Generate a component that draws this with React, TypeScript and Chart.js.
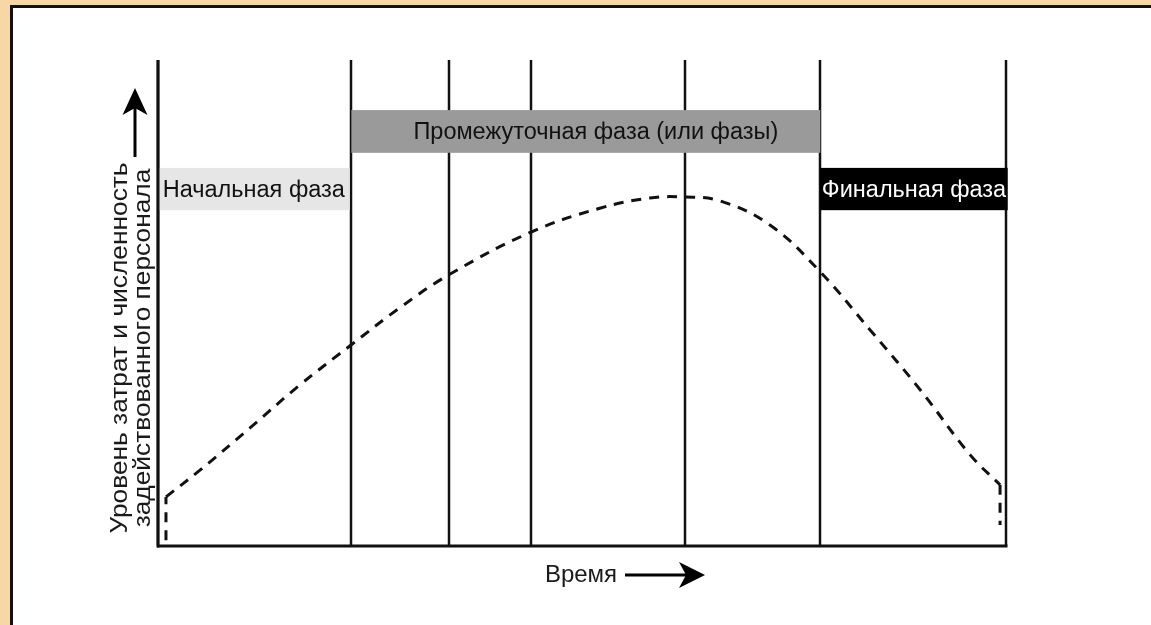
import React, { useEffect, useRef } from "react";
import { Chart, registerables } from "chart.js";

Chart.register(...registerables);

// Phase boundaries on the time axis (0..100)
const phaseBoundaries = [0, 22.8, 34.3, 44.0, 62.1, 78.1, 100];

// Phase labels and their spans
const phaseNames = ["Начальная фаза", "Промежуточная фаза (или фазы)", "Финальная фаза"];
const phaseStart = [0, 22.8, 78.1];
const phaseEnd = [22.6, 78.1, 100.2];
const phaseTop = [77.8, 89.7, 77.8];
const phaseBottom = [69.1, 80.9, 69.1];

// Dashed effort curve
const curveX = [0.94, 4.95, 10.85, 16.7, 22.8, 28.5, 34.3, 44.0, 52.1, 58.0, 62.1, 66.3, 72.2, 78.1, 84.0, 89.9, 95.8, 99.3];
const curveY = [10.1, 15.6, 24.3, 33.1, 41.4, 49.0, 55.8, 64.6, 69.5, 71.6, 71.8, 71.0, 66.0, 56.4, 44.4, 32.1, 18.7, 12.6];
const startTickX = [0.94, 0.94];
const startTickY = [1.2, 10.1];
const endTickX = [99.3, 99.3];
const endTickY = [12.6, 4.3];

const yAxisTitle = ["Уровень затрат и численность", "задействованного персонала"];
const xAxisTitle = "Время";

const FONT = '23.5px "Liberation Sans", Arial, sans-serif';
const INK = "#111111";
const bandFill = ["#e6e6e6", "#9a9a9a", "#000000"];
const bandText = ["#111111", "#111111", "#ffffff"];

const toPoints = (xs: number[], ys: number[]) => xs.map((x, i) => ({ x, y: ys[i] }));

const decorPlugin = {
  id: "decor",
  beforeDatasetsDraw(chart: any) {
    const { ctx, chartArea, scales } = chart;
    const xs = scales.x;
    const ys = scales.y;
    ctx.save();
    // vertical phase lines
    ctx.strokeStyle = INK;
    ctx.lineWidth = 2.5;
    phaseBoundaries.forEach((b) => {
      const px = Math.round(xs.getPixelForValue(b));
      ctx.beginPath();
      ctx.moveTo(px, chartArea.top);
      ctx.lineTo(px, chartArea.bottom);
      ctx.stroke();
    });
    // bottom axis
    ctx.lineWidth = 3;
    ctx.beginPath();
    ctx.moveTo(chartArea.left - 1, chartArea.bottom);
    ctx.lineTo(chartArea.right + 1.5, chartArea.bottom);
    ctx.stroke();
    // bands
    ctx.font = FONT;
    ctx.textAlign = "center";
    ctx.textBaseline = "middle";
    phaseNames.forEach((name, i) => {
      const x0 = xs.getPixelForValue(phaseStart[i]);
      const x1 = xs.getPixelForValue(phaseEnd[i]);
      const y0 = ys.getPixelForValue(phaseTop[i]);
      const y1 = ys.getPixelForValue(phaseBottom[i]);
      ctx.fillStyle = bandFill[i];
      ctx.fillRect(x0, y0, x1 - x0, y1 - y0);
      ctx.fillStyle = bandText[i];
      ctx.fillText(name, (x0 + x1) / 2 + (i === 1 ? 10 : 0), (y0 + y1) / 2 + 1);
    });
    ctx.restore();
  },
  afterDraw(chart: any) {
    const { ctx, chartArea } = chart;
    ctx.save();
    ctx.fillStyle = "#1a1a1a";
    ctx.strokeStyle = "#000";
    ctx.font = FONT;
    ctx.textAlign = "center";
    ctx.textBaseline = "middle";
    // Y axis title (rotated)
    const cy = 348;
    yAxisTitle.forEach((line, i) => {
      ctx.save();
      ctx.translate(chartArea.left - 37 + i * 23, cy);
      ctx.rotate(-Math.PI / 2);
      ctx.scale(1.12, 1);
      ctx.fillText(line, 0, 0);
      ctx.restore();
    });
    // Y arrow
    const ax = chartArea.left - 23;
    ctx.lineWidth = 3;
    ctx.beginPath();
    ctx.moveTo(ax, 157);
    ctx.lineTo(ax, 108);
    ctx.stroke();
    ctx.fillStyle = "#000";
    ctx.beginPath();
    ctx.moveTo(ax, 88);
    ctx.lineTo(ax + 12.5, 115);
    ctx.lineTo(ax, 108);
    ctx.lineTo(ax - 12.5, 115);
    ctx.closePath();
    ctx.fill();
    // X title
    ctx.fillStyle = "#1a1a1a";
    ctx.font = '24px "Liberation Sans", Arial, sans-serif';
    ctx.fillText(xAxisTitle, 581, 575);
    ctx.beginPath();
    ctx.moveTo(625, 575);
    ctx.lineTo(688, 575);
    ctx.stroke();
    ctx.fillStyle = "#000";
    ctx.beginPath();
    ctx.moveTo(705, 575);
    ctx.lineTo(679, 562);
    ctx.lineTo(686, 575);
    ctx.lineTo(679, 588);
    ctx.closePath();
    ctx.fill();
    // left axis on top
    ctx.strokeStyle = INK;
    ctx.lineWidth = 3;
    ctx.beginPath();
    ctx.moveTo(chartArea.left, chartArea.top);
    ctx.lineTo(chartArea.left, chartArea.bottom + 1.5);
    ctx.stroke();
    ctx.restore();
  },
};

export default function App() {
  const ref = useRef<HTMLCanvasElement | null>(null);
  useEffect(() => {
    if (!ref.current) return;
    const dashed = {
      borderColor: INK,
      borderWidth: 3,
      borderDash: [10, 8],
      pointRadius: 0,
      fill: false,
    };
    const chart = new Chart(ref.current, {
      type: "line",
      data: {
        datasets: [
          { ...dashed, data: toPoints(startTickX, startTickY), tension: 0 },
          { ...dashed, data: toPoints(curveX, curveY), tension: 0.4 },
          { ...dashed, data: toPoints(endTickX, endTickY), tension: 0 },
        ],
      },
      options: {
        animation: false,
        responsive: false,
        devicePixelRatio: 1,
        layout: { padding: { left: 158, top: 60, right: 145, bottom: 79 } },
        scales: {
          x: { type: "linear", min: 0, max: 100, display: false },
          y: { min: 0, max: 100, display: false },
        },
        plugins: { legend: { display: false }, tooltip: { enabled: false } },
      },
      plugins: [decorPlugin],
    } as any);
    return () => chart.destroy();
  }, []);

  return (
    <div style={{ position: "fixed", left: 0, top: 0, width: 1151, height: 625, background: "#f8d7a6", overflow: "hidden" }}>
      <div
        style={{
          position: "absolute",
          left: 10,
          top: 5,
          right: 0,
          bottom: 0,
          background: "#ffffff",
          borderLeft: "3px solid #111",
          borderTop: "3px solid #111",
        }}
      />
      <canvas ref={ref} width={1151} height={625} style={{ position: "absolute", left: 0, top: 0 }} />
    </div>
  );
}
